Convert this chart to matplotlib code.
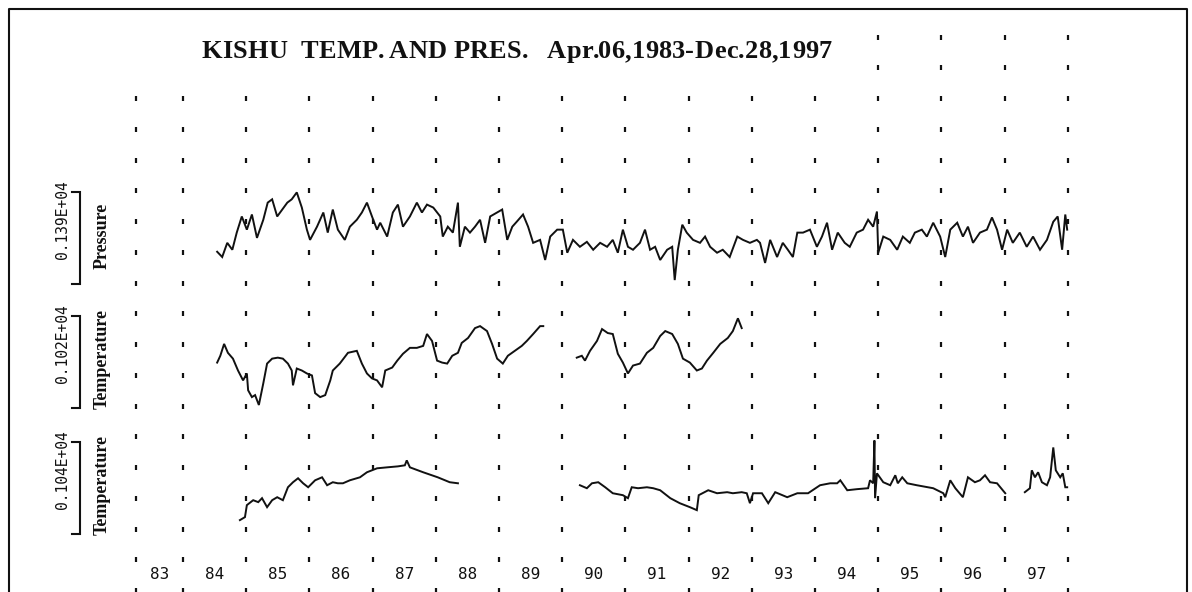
import numpy as np
import matplotlib
matplotlib.use("Agg")
import matplotlib.pyplot as plt
from matplotlib.lines import Line2D

# ---------------- data (decimal years, values in units of each scale bar) -------------
PRES_T = [1984.54,1984.62,1984.70,1984.78,1984.85,1984.93,1985.01,1985.09,1985.17,1985.27,1985.34,1985.41,1985.49,1985.57,1985.65,1985.72,1985.80,1985.88,1985.96,
          1986.01,1986.12,1986.22,1986.29,1986.37,1986.45,1986.56,1986.64,1986.75,1986.83,1986.91,1986.99,1987.07,
          1987.12,1987.23,1987.32,1987.40,1987.48,1987.59,1987.70,1987.78,1987.86,1987.96,
          1988.07,1988.11,1988.19,1988.27,1988.35,1988.38,1988.46,1988.54,1988.62,1988.70,1988.78,1988.86,1988.97,
          1989.05,1989.13,1989.21,1989.28,1989.38,1989.46,1989.54,1989.65,1989.73,1989.81,1989.92,
          1990.01,1990.08,1990.17,1990.28,1990.39,1990.49,1990.60,1990.71,1990.80,1990.88,1990.96,
          1991.04,1991.12,1991.23,1991.31,1991.39,1991.47,1991.55,1991.66,1991.74,1991.78,1991.83,1991.90,1991.97,
          1992.07,1992.18,1992.26,1992.34,1992.45,1992.54,1992.65,1992.77,1992.86,1992.97,1993.08,
          1993.13,1993.21,1993.29,1993.40,1993.49,1993.57,1993.65,1993.72,1993.81,1993.92,
          1994.03,1994.11,1994.19,1994.27,1994.36,1994.47,1994.55,1994.66,1994.76,1994.84,1994.92,1994.98,
          1995.00,1995.08,1995.19,1995.30,1995.39,1995.50,1995.58,1995.69,1995.77,1995.87,1995.98,
          1996.06,1996.14,1996.25,1996.34,1996.42,1996.50,1996.61,1996.72,1996.80,1996.88,1996.96,
          1997.04,1997.13,1997.24,1997.35,1997.45,1997.56,1997.67,1997.77,1997.84,1997.91,1997.96,1997.99]
PRES_V = [490,410,625,520,780,1025,825,1055,700,975,1235,1285,1025,1130,1235,1285,1390,1160,825,670,
          870,1085,780,1130,825,670,870,975,1085,1235,1025,825,
          930,720,1085,1205,870,1025,1235,1085,1205,1160,1025,720,870,780,1235,565,870,780,870,975,
          625,1025,1085,1130,670,870,945,1055,870,625,670,365,720,825,825,475,670,565,640,520,
          625,565,670,475,825,565,520,625,825,520,565,365,520,565,60,520,900,780,670,625,
          720,565,475,520,410,720,670,625,670,
          625,320,670,410,625,520,410,780,780,825,565,720,930,520,780,625,565,780,825,975,
          870,1100,475,720,670,520,720,625,780,825,720,930,720,410,825,930,720,870,625,780,
          825,1010,825,520,825,625,780,565,720,520,670,945,1025,520,1055,825]

TEMP1_T_A = [1984.54,1984.59,1984.65,1984.71,1984.79,1984.87,1984.95,1985.01,1985.03,1985.09,1985.14,1985.20,1985.27,1985.33,1985.41,1985.50,1985.58,1985.66,1985.72,1985.74,1985.80,1985.88,1985.96,
             1986.04,1986.09,1986.17,1986.25,1986.33,1986.37,1986.48,1986.61,1986.75,1986.83,1986.91,1986.99,
             1987.07,1987.15,1987.20,1987.31,1987.39,1987.48,1987.59,1987.70,1987.80,1987.86,1987.94,
             1988.02,1988.10,1988.18,1988.26,1988.35,1988.41,1988.51,1988.62,1988.70,1988.81,1988.89,1988.97,
             1989.06,1989.14,1989.25,1989.36,1989.44,1989.54,1989.65,1989.70]
TEMP1_V_A = [505,581,713,614,549,417,307,384,197,121,143,33,274,494,549,560,549,494,417,252,439,417,384,
             362,165,121,143,307,417,494,614,636,494,384,329,
             307,230,417,450,527,603,669,669,691,823,746,
             527,505,494,581,614,724,779,889,911,856,713,549,
             494,581,636,691,746,823,911,911]
TEMP1_T_B = [1990.23,1990.31,1990.36,1990.44,1990.55,1990.63,1990.72,1990.80,1990.88,1990.96,
             1991.04,1991.12,1991.23,1991.34,1991.44,1991.55,1991.63,1991.74,1991.83,1991.91,
             1992.02,1992.13,1992.21,1992.29,1992.39,1992.50,1992.62,1992.70,1992.78,1992.84]
TEMP1_V_B = [560,581,527,636,746,878,834,823,603,505,
             384,472,494,614,669,801,856,823,713,549,
             505,417,439,527,614,713,779,856,998,889]

TEMP2_T_A = [1984.90,1984.98,1985.01,1985.11,1985.19,1985.25,1985.33,1985.41,1985.49,1985.58,1985.66,1985.74,1985.82,1985.90,1985.98,
             1986.09,1986.20,1986.28,1986.37,1986.45,1986.53,1986.64,1986.80,1986.91,
             1987.07,1987.23,1987.40,1987.51,1987.54,1987.59,1987.80,1988.03,1988.22,1988.35]
TEMP2_V_A = [158,192,328,384,362,407,305,384,418,384,531,588,633,576,531,
             610,644,554,588,576,576,610,644,701,
             746,757,768,780,836,757,701,644,588,576]
TEMP2_T_B = [1990.28,1990.39,1990.47,1990.57,1990.68,1990.80,1990.96,
             1991.04,1991.10,1991.20,1991.34,1991.44,1991.55,1991.71,1991.86,
             1992.02,1992.13,1992.16,1992.31,1992.45,1992.61,1992.70,1992.84,1992.92,1992.97,
             1993.02,1993.16,1993.26,1993.37,1993.56,1993.72,1993.89,
             1994.08,1994.24,1994.35,1994.40,1994.51,1994.66,1994.84,1994.87,1994.92,1994.94,1994.95,1994.98,
             1995.08,1995.19,1995.27,1995.31,1995.38,1995.46,1995.61,1995.87,
             1996.03,1996.06,1996.14,1996.22,1996.34,1996.42,1996.53,1996.61,1996.69,1996.77,1996.88,1997.01]
TEMP2_V_B = [554,520,576,588,531,463,441,
             407,531,520,531,520,497,407,350,
             305,271,441,497,463,475,463,475,463,350,
             463,463,350,475,418,463,463,
             554,576,576,610,497,509,520,610,576,1062,407,689,
             588,554,667,576,644,576,554,520,
             463,418,610,520,418,644,588,610,667,588,576,463]
TEMP2_T_C = [1997.32,1997.40,1997.43,1997.48,1997.53,1997.59,1997.67,1997.72,1997.77,1997.81,1997.88,1997.92,1997.96,1997.99]
TEMP2_V_C = [475,520,723,644,701,588,554,644,983,723,644,689,531,531]

SCALE_LABELS = ["0.139E+04", "0.102E+04", "0.104E+04"]
SCALE_VALUES = [1390.0, 1020.0, 1040.0]
SERIES_NAMES = ["Pressure", "Temperature", "Temperature"]
YEAR_LABELS = ["83", "84", "85", "86", "87", "88", "89", "90", "91", "92", "93", "94", "95", "96", "97"]
START_YEAR = 1983.26   # Apr.06,1983
TITLE_MAIN = "KISHU  TEMP. AND PRES."
TITLE_DATE = "Apr.06,1983-Dec.28,1997"

# ---------------- layout ----------------
W, H = 1192, 592
fig = plt.figure(figsize=(W / 100, H / 100), dpi=100)
fig.patch.set_facecolor("white")
ax = fig.add_axes([0, 0, 1, 1])
ax.set_xlim(1981.104, 1999.965)
ax.set_ylim(-0.065, 19.187)
ax.axis("off")

INK = "#111111"
BAR = 2.98
bottoms = [9.95, 5.92, 1.82]

# dotted year boundaries
col_years = [START_YEAR] + list(range(1984, 1999))
for c in col_years:
    nrows = 19 if c >= 1995 else 17
    rows = np.arange(nrows)
    ax.plot(np.full(nrows, float(c)), rows, ls="none", marker="|", ms=3.6, mew=1.6, color=INK)

# year labels in the middle of each year
for i, lab in enumerate(YEAR_LABELS):
    xm = (col_years[i] + col_years[i + 1]) / 2
    ax.text(xm, 0.49, lab, ha="center", va="center", fontsize=11.5,
            family="DejaVu Sans Mono", color=INK)

# traces
def draw(t, v, k):
    t = np.asarray(t, float)
    v = np.asarray(v, float)
    ax.plot(t, bottoms[k] + v / SCALE_VALUES[k] * BAR, color=INK, lw=1.4,
            solid_joinstyle="miter")

draw(PRES_T, PRES_V, 0)
draw(TEMP1_T_A, TEMP1_V_A, 1)
draw(TEMP1_T_B, TEMP1_V_B, 1)
draw(TEMP2_T_A, TEMP2_V_A, 2)
draw(TEMP2_T_B, TEMP2_V_B, 2)
draw(TEMP2_T_C, TEMP2_V_C, 2)

# scale bars and labels
xb, xt = 1982.37, 1982.244
for k in range(3):
    b = bottoms[k]
    ax.plot([xt, xb, xb, xt], [b + BAR, b + BAR, b, b], color=INK, lw=1.5,
            solid_joinstyle="miter")
    ax.text(1982.10, b + 2.1, SCALE_LABELS[k], rotation=90, ha="center", va="center",
            fontsize=10.5, family="DejaVu Sans Mono", color=INK)
    ax.text(1982.72, b + 1.58, SERIES_NAMES[k], rotation=90, ha="center", va="center",
            fontsize=13, family="Liberation Serif", weight="bold", color=INK)

# title, fitted to the span each part covers on the sheet
renderer = fig.canvas.get_renderer()
TKW = dict(fontsize=19, family="Liberation Serif", weight="bold", color=INK)


def prefix_width(s):
    if not s:
        return 0.0
    t = fig.text(0, 0, s.replace(" ", "\u00a0"), **TKW)
    w = t.get_window_extent(renderer).width
    t.remove()
    return w


def tracked(s, x0, x1, y_base):
    nat = prefix_width(s)
    extra = (x1 - x0 - nat) / max(len(s) - 1, 1)
    for i, ch in enumerate(s):
        if ch == " ":
            continue
        x = x0 + prefix_width(s[:i]) + i * extra
        fig.text(x / W, 1 - y_base / H, ch, ha="left", va="baseline", **TKW)


tracked(TITLE_MAIN, 201, 528, 58)
tracked(TITLE_DATE, 547, 832, 58)

# frame of the sheet
lx, rx, ty = 9 / W, 1187 / W, 1 - 9 / H
fig.add_artist(Line2D([lx, lx, rx, rx], [0, ty, ty, 0], transform=fig.transFigure,
                      color=INK, lw=1.5))

fig.savefig("out.png", dpi=100, facecolor="white")
